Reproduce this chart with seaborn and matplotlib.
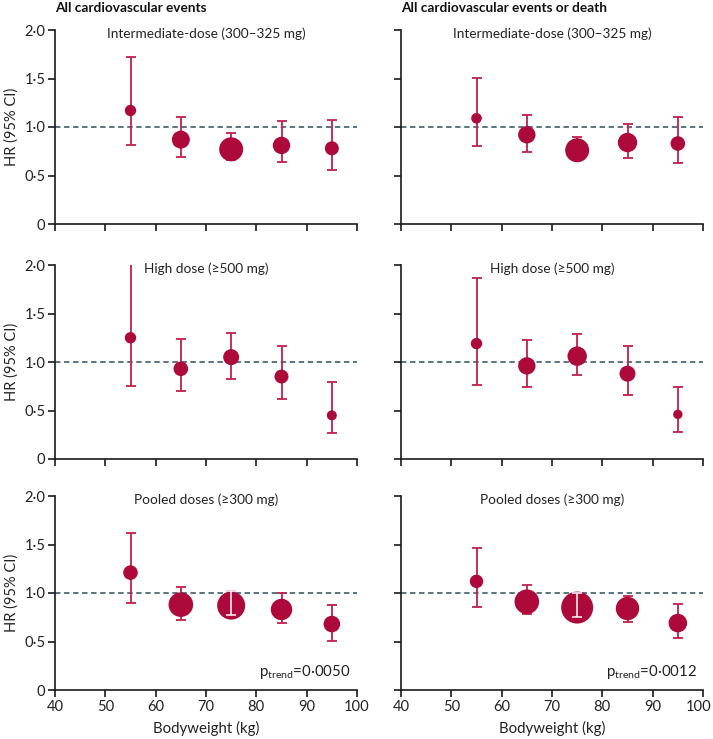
import numpy as np
import pandas as pd
import seaborn as sns
import matplotlib.pyplot as plt
from matplotlib.transforms import ScaledTranslation

# bodyweight category midpoints (kg)
bodyweight = [55, 65, 75, 85, 95]

# All cardiovascular events
hr_cv_int = [1.17, 0.87, 0.77, 0.81, 0.78]
lo_cv_int = [0.81, 0.69, 0.66, 0.64, 0.56]
hi_cv_int = [1.72, 1.10, 0.94, 1.06, 1.07]
wt_cv_int = [5.7, 9.0, 12.0, 8.7, 7.0]

hr_cv_high = [1.25, 0.93, 1.05, 0.85, 0.45]
lo_cv_high = [0.75, 0.70, 0.82, 0.62, 0.27]
hi_cv_high = [2.10, 1.24, 1.30, 1.16, 0.79]
wt_cv_high = [5.7, 7.3, 8.0, 7.0, 5.0]

hr_cv_pool = [1.21, 0.88, 0.87, 0.83, 0.68]
lo_cv_pool = [0.90, 0.72, 0.77, 0.69, 0.51]
hi_cv_pool = [1.62, 1.06, 1.02, 1.00, 0.88]
wt_cv_pool = [7.3, 12.3, 14.0, 10.7, 8.3]

# All cardiovascular events or death
hr_cvd_int = [1.09, 0.92, 0.76, 0.84, 0.83]
lo_cvd_int = [0.80, 0.74, 0.66, 0.68, 0.63]
hi_cvd_int = [1.51, 1.12, 0.90, 1.03, 1.10]
wt_cvd_int = [5.3, 8.7, 12.0, 9.7, 7.3]

hr_cvd_high = [1.19, 0.96, 1.06, 0.88, 0.46]
lo_cvd_high = [0.76, 0.74, 0.87, 0.66, 0.28]
hi_cvd_high = [1.87, 1.23, 1.29, 1.16, 0.74]
wt_cvd_high = [5.7, 8.7, 9.7, 8.0, 4.7]

hr_cvd_pool = [1.12, 0.91, 0.85, 0.84, 0.69]
lo_cvd_pool = [0.86, 0.78, 0.75, 0.70, 0.54]
hi_cvd_pool = [1.46, 1.08, 1.00, 0.97, 0.89]
wt_cvd_pool = [6.7, 12.3, 16.0, 11.7, 9.3]

col_titles = ["All cardiovascular events", "All cardiovascular events or death"]
row_titles = ["Intermediate-dose (300\u2013325 mg)", "High dose (\u2265500 mg)", "Pooled doses (\u2265300 mg)"]
p_trend = ["0\u00b70050", "0\u00b70012"]
ytick_vals = [0, 0.5, 1.0, 1.5, 2.0]
ytick_labels = ["0", "0\u00b75", "1\u00b70", "1\u00b75", "2\u00b70"]
xtick_vals = [40, 50, 60, 70, 80, 90, 100]

panels = [
    [(hr_cv_int, lo_cv_int, hi_cv_int, wt_cv_int), (hr_cvd_int, lo_cvd_int, hi_cvd_int, wt_cvd_int)],
    [(hr_cv_high, lo_cv_high, hi_cv_high, wt_cv_high), (hr_cvd_high, lo_cvd_high, hi_cvd_high, wt_cvd_high)],
    [(hr_cv_pool, lo_cv_pool, hi_cv_pool, wt_cv_pool), (hr_cvd_pool, lo_cvd_pool, hi_cvd_pool, wt_cvd_pool)],
]
# points where the CI sits inside the marker and is drawn in white
white_bars = {(2, 0, 2), (2, 1, 2)}

sns.set_style("ticks")
plt.rcParams['font.family'] = ['Lato', 'DejaVu Sans']
plt.rcParams['mathtext.fontset'] = 'custom'
plt.rcParams['mathtext.rm'] = 'Lato'
plt.rcParams['mathtext.it'] = 'Lato'

MARKER = "#AD0A3B"
BAR = "#C2204C"
DASH = "#4C6A77"
TXT = "#222222"

W, H = 713, 739
fig = plt.figure(figsize=(W / 100, H / 100), dpi=100)

col_x = [55, 401]
row_top = [30, 265, 496]
ax_w, ax_h = 302, 194

for r in range(3):
    for c in range(2):
        hr, lo, hi, wt = panels[r][c]
        ax = fig.add_axes([col_x[c] / W, 1 - (row_top[r] + ax_h) / H, ax_w / W, ax_h / H])
        df = pd.DataFrame({"bw": bodyweight, "hr": hr, "lo": lo, "hi": hi, "wt": wt})

        ax.axhline(1.0, color=DASH, lw=1.3, ls=(0, (3, 2)), zorder=1)
        yerr = np.array([df["hr"] - df["lo"], df["hi"] - df["hr"]])
        ax.errorbar(df["bw"], df["hr"], yerr=yerr, fmt="none", ecolor=BAR,
                    elinewidth=1.3, capsize=3.8, capthick=1.3, zorder=2)
        sizes = (1.44 * df["wt"]) ** 2
        sns.scatterplot(data=df, x="bw", y="hr", s=sizes, color=MARKER,
                        edgecolor="none", linewidth=0, legend=False, ax=ax, zorder=3)
        for i in range(len(bodyweight)):
            if (r, c, i) in white_bars:
                ax.errorbar([bodyweight[i]], [hr[i]], yerr=[[hr[i] - lo[i]], [hi[i] - hr[i]]],
                            fmt="none", ecolor="white", elinewidth=1.1, capsize=3.8,
                            capthick=1.1, zorder=4)

        ax.set_xlim(40, 100)
        ax.set_ylim(0, 2.0)
        ax.set_xticks(xtick_vals)
        ax.set_yticks(ytick_vals)
        sns.despine(ax=ax)
        for s in ["left", "bottom"]:
            ax.spines[s].set_linewidth(1.2)
            ax.spines[s].set_color("#1a1a1a")
        ax.tick_params(length=5, width=1.2, color="#1a1a1a", labelsize=10.6,
                       labelcolor=TXT, pad=2)
        if c == 0:
            ax.set_yticklabels(ytick_labels)
            ax.set_ylabel("HR (95% CI)", fontsize=10.5, color=TXT, labelpad=4)
        else:
            ax.set_yticklabels([])
            ax.set_ylabel("")
        if r == 2:
            ax.set_xlabel("Bodyweight (kg)", fontsize=10.8, color=TXT, labelpad=5)
            ax.text(98.8, 0.19, r"p$_{\mathrm{trend}}$=" + p_trend[c], ha="right", va="center",
                    fontsize=10.8, color=TXT)
            if c == 1:
                # keep the last tick label inside the figure edge
                last = ax.get_xticklabels()[-1]
                last.set_transform(last.get_transform() + ScaledTranslation(-3 / 72, 0, fig.dpi_scale_trans))
        else:
            ax.set_xticklabels([])
            ax.set_xlabel("")
        ax.text(70, 1.96, row_titles[r], ha="center", va="center", fontsize=9.8, color=TXT)

for c in range(2):
    fig.text(col_x[c] / W, 1 - 8 / H, col_titles[c], ha="left", va="center",
             fontsize=9.8, fontweight="bold", color="#111111")

fig.savefig("out.png", dpi=100)
